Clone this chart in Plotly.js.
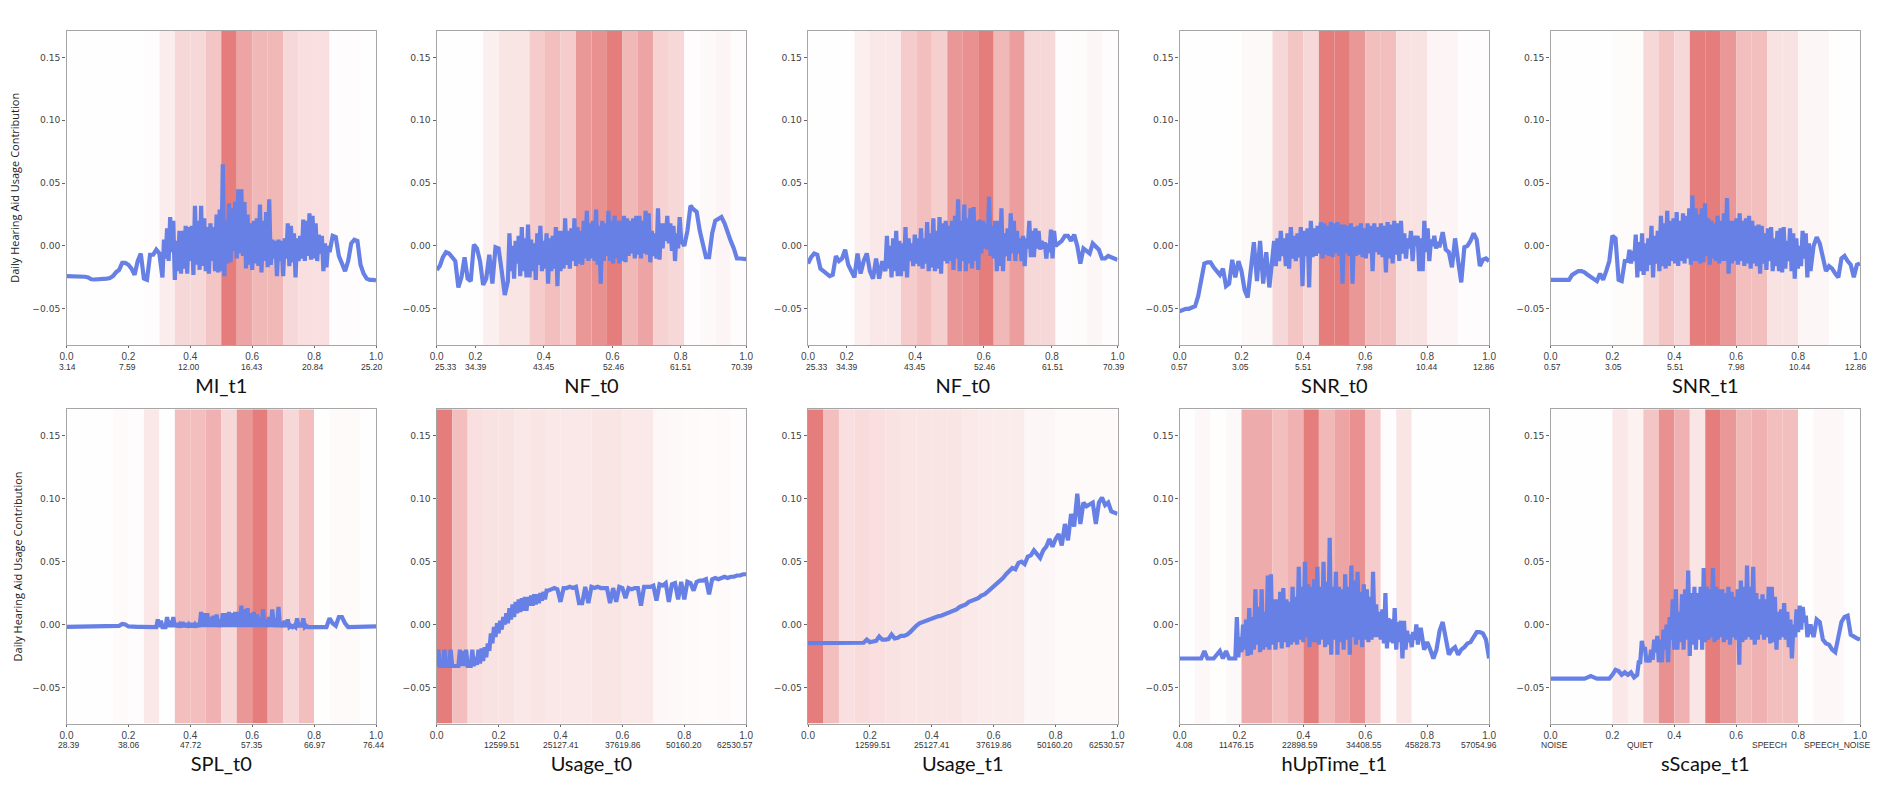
<!DOCTYPE html>
<html>
<head>
<meta charset="utf-8">
<script src="https://cdn.plot.ly/plotly-3.0.1.min.js"></script>
<style>html,body{margin:0;padding:0;background:#fff}</style>
</head>
<body>
<div id="chart" style="width:1892px;height:790px"></div>
<script>
// feature names
const titles = ['MI_t1','NF_t0','NF_t0','SNR_t0','SNR_t1','SPL_t0','Usage_t0','Usage_t1','hUpTime_t1','sScape_t1'];

// contribution curves
// step is 0.01, except between denseFrom and denseTo where the noisy part is read at about 0.005
const miT1 = [-.024,-.024,-.024,-.024,-.024,-.024,-.0245,-.025,-.0265,-.0267,-.0267,-.0267,-.0265,-.026,-.0255,-.024,-.021,-.019,-.0135,-.0135,-.015,-.018,-.023,-.012,-.006,-.026,-.027,-.007,-.007,-.003,-.006,
  -.025,.005,-.01,.014,-.012,.023,-.005,.02,-.027,.004,-.02,.012,-.022,.012,-.018,.016,-.022,.015,-.012,.016,-.023,.032,-.015,.02,-.019,.032,-.016,.022,-.02,.015,-.022,.018,-.012,.015,-.02,.025,-.021,.029,-.02,.065,-.024,.02,-.014,.034,-.013,.03,-.004,.035,-.01,.045,-.006,.045,-.008,.035,-.018,.025,-.015,.018,-.019,.02,-.014,.022,-.016,.033,-.021,.02,-.012,.027,-.017,.037,-.015,.005,-.01,.004,-.024,.005,-.012,.004,-.024,.006,-.01,.018,-.016,.016,-.013,.01,-.025,.006,-.012,.008,-.01,.021,-.012,.02,-.008,.026,-.011,.024,-.01,.018,-.012,.009,-.006,.008,-.02,.002,-.017,.0,
  -.005,.008,.007,-.008,-.015,-.02,-.012,.002,.005,.004,-.015,-.022,-.026,-.027,-.027,-.0275];
const nfT0a = [-.019,-.016,-.009,-.005,-.006,-.009,-.012,-.033,-.025,-.009,-.026,-.028,.001,-.002,-.012,-.031,-.026,-.007,-.03,-.001,-.002,-.02,-.039,
  -.028,.01,-.02,.0,-.026,.004,-.014,.008,-.024,.015,-.02,.006,-.025,.017,-.025,.005,-.02,.002,-.027,.01,-.015,.016,-.02,.004,-.018,.01,-.03,.006,-.02,.008,-.018,.015,-.032,.012,-.02,.012,-.018,.022,-.015,.012,-.018,.014,-.012,.022,-.016,.015,-.014,.012,-.015,.02,-.01,.028,-.012,.018,-.01,.02,-.012,.029,-.015,.016,-.03,.02,-.012,.018,-.008,.028,-.012,.02,-.014,.024,-.01,.02,-.014,.02,-.012,.024,-.013,.022,-.008,.02,-.006,.022,-.01,.024,-.007,.024,-.01,.02,-.006,.028,-.007,.026,-.013,.012,-.008,.01,-.01,.03,-.011,.018,-.002,.018,.004,.024,.002,.018,-.004,.016,-.012,.01,-.002,.023,
  .004,.0,.012,.032,.029,.027,.012,.003,-.009,-.009,.01,.02,.022,.023,.018,.01,.004,-.002,-.01,-.01,-.0105,-.0105];
const nfT0b = [-.014,-.009,-.006,-.007,-.018,-.02,-.021,-.024,-.023,-.008,-.012,-.01,-.003,-.015,-.02,-.025,-.006,-.022,-.012,-.006,-.02,-.026,-.01,-.026,-.012,
  -.02,.008,-.018,.0,-.025,.006,-.02,.012,-.024,.004,-.024,.002,-.02,.015,-.025,.006,-.012,.002,-.016,.009,-.014,.006,-.016,.014,-.018,.006,-.014,.019,-.02,.01,-.017,.022,-.02,.012,-.018,.023,-.022,.018,-.012,.02,-.014,.016,-.012,.02,-.019,.024,-.01,.037,-.02,.02,-.012,.033,-.02,.022,-.014,.03,-.018,.031,-.012,.02,-.019,.021,-.006,.02,-.002,.018,-.003,.039,-.008,.016,-.01,.02,-.02,.02,-.016,.03,-.02,.01,-.008,.014,-.012,.026,-.006,.02,-.012,.012,-.006,.006,-.012,.008,-.016,.006,-.002,.02,-.009,.012,-.009,.014,-.002,.012,-.003,.004,-.002,.003,-.01,.002,-.005,.013,-.01,.012,
  .0,.002,.004,.008,.008,.004,.009,.0,-.014,-.002,-.004,-.006,.002,.0,-.003,-.01,-.01,-.008,-.009,-.01,-.011];
const snrT0 = [-.052,-.051,-.05,-.05,-.049,-.048,-.04,-.028,-.014,-.013,-.013,-.017,-.02,-.023,-.018,-.032,-.03,-.011,-.025,-.012,-.02,-.035,-.041,-.02,.003,-.028,.004,-.03,-.005,-.033,
  -.01,.004,-.016,.006,-.012,.012,-.008,.006,-.016,.01,-.018,.015,-.01,.008,-.012,.01,-.009,.015,-.032,.012,-.008,.014,-.033,.02,-.009,.014,-.008,.016,-.006,.019,-.01,.018,-.007,.016,-.008,.019,-.009,.018,-.006,.019,-.008,.017,-.03,.017,-.006,.016,-.008,.018,-.03,.015,-.008,.016,-.007,.018,-.009,.014,-.01,.018,-.006,.016,-.02,.018,-.005,.015,-.007,.018,-.009,.016,-.021,.019,-.01,.017,-.014,.02,-.007,.018,-.012,.02,-.006,.01,-.01,.006,-.002,.012,-.012,.008,.0,.008,-.02,.006,-.02,.02,-.005,.014,-.012,.005,.0,.008,-.002,.003,-.001,.004,
  .011,-.003,-.005,-.017,.006,-.012,-.029,-.001,.0,.004,.01,.005,-.016,-.011,-.01,-.012];
const snrT1 = [-.027,-.027,-.027,-.027,-.027,-.027,-.027,-.023,-.021,-.02,-.02,-.021,-.023,-.025,-.027,-.028,-.022,-.027,-.02,-.012,.008,.006,-.027,-.028,-.012,
  -.012,-.003,-.014,-.004,-.012,.009,-.025,.003,-.02,.01,-.023,.002,-.02,.006,-.015,.016,-.025,.008,-.014,.012,-.02,.024,-.016,.018,-.018,.028,-.016,.02,-.012,.022,-.014,.027,-.016,.02,-.012,.026,-.014,.024,-.01,.03,-.015,.04,-.012,.03,-.012,.025,-.014,.03,-.013,.034,-.008,.022,-.015,.02,-.01,.018,-.012,.024,-.014,.02,-.012,.026,-.012,.038,-.022,.02,-.014,.02,-.012,.022,-.015,.026,-.012,.02,-.016,.022,-.014,.024,-.018,.02,-.014,.016,-.016,.017,-.022,.016,-.014,.01,-.019,.014,-.012,.015,-.02,.006,-.016,.012,-.02,.014,-.021,.015,-.018,.004,-.012,.014,-.02,.01,-.026,.006,-.018,.0,-.016,.012,-.01,.01,-.025,.002,
  -.02,.0,.007,.002,-.01,-.02,-.016,-.018,-.022,-.025,-.01,-.008,-.012,-.015,-.025,-.015,-.014];
const splT0 = [-.0018,-.0018,-.0018,-.0018,-.0018,-.0018,-.0018,-.0018,-.0018,-.0018,-.0018,-.0018,-.0018,-.0018,-.0018,-.0018,-.0018,-.001,.0005,0,-.0015,-.0018,-.0018,-.0018,-.0018,-.0018,-.0018,-.0018,-.0018,
  -.002,.004,-.002,.003,-.002,-.002,-.002,.006,-.002,.003,-.002,.006,-.002,.001,-.002,.0,-.002,.002,-.002,.001,-.002,.0,-.002,.001,-.002,.0,-.002,.001,-.002,.01,-.002,.009,-.002,.009,-.002,.006,-.002,.007,-.002,.008,-.002,.004,-.002,.009,-.002,.009,-.002,.01,-.002,.009,-.002,.01,-.002,.01,-.002,.015,-.002,.012,-.002,.013,-.002,.009,-.002,.01,-.002,.008,-.002,.006,-.002,.012,-.002,.004,-.002,.006,-.002,.012,-.002,.005,-.002,.014,-.002,.002,-.002,.003,-.002,.004,-.002,-.001,-.002,-.001,-.002,.005,-.002,.001,-.002,.005,-.002,-.001,
  -.002,-.002,-.002,-.002,-.002,-.002,-.002,.005,.001,-.001,.006,.006,.001,-.002,-.002,-.0015,-.0015,-.0015,-.0015,-.0015,-.0015,-.0015,-.0015];
const usageT0 = [-.033,-.02,-.033,-.033,-.033,-.02,-.033,-.033,-.033,-.02,-.033,-.033,-.033,-.033,-.033,-.02,-.033,-.021,-.033,-.02,-.033,-.033,-.033,-.02,-.033,-.026,-.032,-.02,-.031,-.019,-.029,-.018,-.026,-.015,-.021,-.007,-.015,-.002,-.01,.001,-.007,.003,-.004,.006,.0,.009,.001,.013,.004,.016,.006,.018,.009,.02,.01,.021,.011,.022,.011,.022,.015,.023,.015,.024,.016,.024,.017,.025,.019,.026,.02,.027,
  .027,.028,.029,.028,.018,.029,.029,.03,.029,.03,.017,.017,.03,.017,.03,.029,.03,.029,.029,.029,.017,.029,.018,.03,.029,.021,.029,.028,.029,.029,.015,.03,.03,.03,.031,.019,.032,.031,.033,.018,.032,.033,.02,.034,.02,.034,.033,.027,.034,.035,.035,.036,.024,.036,.037,.036,.037,.038,.037,.038,.038,.039,.039,.04,.04];
const usageT1 = [-.0148,-.0148,-.0148,-.0148,-.0148,-.0148,-.0148,-.0148,-.0148,-.0148,-.0148,-.0148,-.0148,-.0148,-.0148,-.0148,-.0148,-.0148,-.0145,-.012,-.014,-.0135,-.013,-.0095,-.012,-.012,-.0115,-.008,-.011,-.0105,-.009,-.009,-.008,-.006,-.003,-.001,.001,.002,.003,.004,.005,.006,.0065,.007,.008,.009,.0105,.011,.012,.014,.015,.016,.018,.019,.02,.021,.023,.024,.026,.028,.03,.033,.035,.037,.04,.042,.045,.044,.049,.05,.048,.054,.055,.059,.056,.053,.059,.062,.068,.062,.068,.072,.063,.08,.067,.088,.078,.104,.08,.097,.094,.096,.097,.08,.097,.101,.095,.097,.09,.089,.088];
const hUpTimeT1 = [-.027,-.027,-.027,-.027,-.027,-.027,-.027,-.027,-.021,-.027,-.027,-.027,-.024,-.021,-.027,-.021,-.027,-.027,
  -.027,.006,-.026,-.01,-.022,.0,-.02,.004,-.025,.013,-.024,.006,-.02,.028,-.016,.014,-.022,.028,-.02,.01,-.018,.039,-.02,.04,-.016,.02,-.02,.02,-.014,.026,-.019,.029,-.014,.02,-.018,.018,-.016,.03,-.014,.022,-.016,.046,-.012,.03,-.014,.05,-.01,.032,-.018,.03,-.014,.036,-.014,.046,-.016,.03,-.012,.05,-.018,.034,-.016,.069,-.024,.03,-.012,.042,-.024,.03,-.014,.028,-.02,.04,-.012,.03,-.024,.047,-.01,.035,-.016,.042,-.012,.026,-.018,.032,-.012,.028,-.014,.022,-.012,.042,-.01,.016,-.01,.01,-.012,.012,-.015,.025,-.019,.005,-.014,.004,-.015,.013,-.02,.002,-.014,.003,-.027,.003,-.02,-.005,-.014,-.008,-.018,-.006,-.012,.0,-.016,-.004,
  -.004,-.02,-.014,-.02,-.027,-.02,-.005,.002,-.012,-.024,-.02,-.018,-.024,-.02,-.018,-.015,-.014,-.01,-.006,-.006,-.007,-.012,-.027];
const sScapeT1 = [-.043,-.043,-.043,-.043,-.043,-.043,-.043,-.043,-.043,-.043,-.043,-.043,-.042,-.041,-.042,-.043,-.043,-.043,-.043,-.043,-.04,-.036,-.037,-.04,-.038,-.04,-.038,-.042,
  -.04,-.03,-.03,-.013,-.02,-.018,-.03,-.025,-.03,-.02,-.028,-.012,-.022,-.009,-.03,-.012,-.03,-.004,-.02,.0,-.03,.006,-.012,.02,-.02,.028,-.02,.01,-.014,.024,-.02,.028,-.012,.043,-.025,.025,-.016,.03,-.02,.025,-.012,.03,-.02,.045,-.014,.03,-.012,.028,-.01,.045,-.014,.03,-.012,.028,-.01,.028,-.014,.025,-.012,.03,-.016,.026,-.01,.022,-.012,.028,-.032,.035,-.014,.03,-.012,.047,-.01,.03,-.012,.046,-.016,.025,-.012,.02,-.008,.024,-.012,.02,-.01,.03,-.015,.03,-.014,.022,-.02,.01,-.012,.012,-.01,.017,-.012,.01,-.018,.004,-.027,.0,-.01,.012,-.006,.015,-.004,.014,.002,.007,
  -.01,.0,-.01,.004,.002,-.012,-.015,-.016,-.02,-.022,-.01,.002,.006,.007,-.008,-.01,-.011,-.012];
const curves = [miT1,nfT0a,nfT0b,snrT0,snrT1,splT0,usageT0,usageT1,hUpTimeT1,sScapeT1];
const denseFrom = [.31,.23,.25,.30,.25,.29,0,0,.18,.28];
const denseTo = [.85,.79,.80,.85,.84,.78,.36,1,.78,.83];

// red band strength per 0.05 wide bin, 20 bins per panel
const bandMi = [.01,.01,.01,.01,.01,.02,.14,.3,.3,.45,1,.7,.55,.55,.3,.25,.25,.02,.02,.01];
const bandNfA = [.01,.01,.01,.12,.2,.2,.4,.5,.4,.8,.85,1,.55,.7,.35,.3,.02,.05,.08,.02];
const bandNfB = [.01,.01,.01,.12,.18,.18,.4,.5,.38,.8,.85,1,.55,.75,.3,.3,.02,.03,.07,.02];
const bandSnrA = [.01,.01,.01,.01,.05,.05,.3,.45,.3,1,1,.8,.5,.5,.22,.22,.08,.08,.02,.02];
const bandSnrB = [.01,.01,.01,.01,.03,.03,.3,.45,.3,1,1,.8,.5,.5,.22,.22,.07,.07,.01,.01];
const bandSpl = [.01,.01,.01,.04,.02,.18,.01,.5,.5,.6,.3,.8,1,.6,.3,.5,.01,.04,.04,.01];
const bandUsageA = [1,.5,.25,.22,.22,.18,.2,.18,.18,.18,.2,.2,.17,.17,.06,.05,.04,.03,.04,.02];
const bandUsageB = [1,.5,.25,.28,.25,.22,.2,.2,.2,.2,.17,.15,.15,.15,.07,.07,.04,.04,.04,.04];
const bandUpTime = [.01,.06,.01,.05,.65,.65,.5,.6,1,.55,.7,.85,.4,.02,.2,.01,.01,.01,.01,.01];
const bandScape = [.01,.01,.01,.01,.18,.1,.45,.85,.6,.2,1,.8,.55,.6,.5,.5,.01,.06,.06,.01];
const bands = [bandMi,bandNfA,bandNfB,bandSnrA,bandSnrB,bandSpl,bandUsageA,bandUsageB,bandUpTime,bandScape];

// x ticks, the 0..1 scale and the raw feature values below it
const unitLabels = ['0.0','0.2','0.4','0.6','0.8','1.0'];
const regularTicks = [0,.2,.4,.6,.8,1];
const nfTicks = [0,.125,.346,.568,.788,1];
const tickVals = [regularTicks,nfTicks,nfTicks,regularTicks,regularTicks,regularTicks,regularTicks,regularTicks,[0,.193,.4,.6,.8,1],regularTicks];
const rawLabels = [
  ['3.14','7.59','12.00','16.43','20.84','25.20'],
  ['25.33','34.39','43.45','52.46','61.51','70.39'],
  ['25.33','34.39','43.45','52.46','61.51','70.39'],
  ['0.57','3.05','5.51','7.98','10.44','12.86'],
  ['0.57','3.05','5.51','7.98','10.44','12.86'],
  ['28.39','38.06','47.72','57.35','66.97','76.44'],
  ['60','12599.51','25127.41','37619.86','50160.20','62530.57'],
  ['60','12599.51','25127.41','37619.86','50160.20','62530.57'],
  ['4.08','11476.15','22898.59','34408.55','45828.73','57054.96'],
  ['NOISE','QUIET','SPEECH','SPEECH_NOISE']
];
const rawLabelPos = [
  [.003,.198,.396,.6,.798,.988],
  [.029,.128,.346,.572,.79,.987],
  [.028,.127,.345,.571,.79,.988],
  [.001,.198,.401,.597,.8,.983],
  [.008,.204,.405,.601,.805,.988],
  [.007,.203,.402,.598,.803,.993],
  [-.004,.211,.4,.601,.798,.963],
  [-.003,.211,.4,.602,.798,.966],
  [.017,.185,.388,.597,.786,.968],
  [.014,.29,.707,.927]
];

const yTicks = [-.05,0,.05,.1,.15];
const yMin = -.0788, yMax = .1712;
const W = 1892, H = 790;
const colLeft = [66.5,436.7,808,1179.6,1550.5];
const panelW = 309.5;
const rowTop = [30.7,409.3], panelH = 314.3;
const rawLabelY = [367,745];

const lineColor = '#6680E6';
const darkRed = [229,125,125];
function bandColor(a) {
  const c = darkRed.map(v => Math.round(255 - a * (255 - v)));
  return `rgb(${c[0]},${c[1]},${c[2]})`;
}

// x positions of a curve: 0.01 steps outside the dense part, even steps inside it
function curveX(values, from, to) {
  const head = Math.round(from * 100), tail = Math.round((1 - to) * 100) + 1;
  const dense = values.length - head - tail;
  return values.map((_, i) => {
    if (i < head) return i / 100;
    if (i < head + dense) return from + (i - head) * (to - from) / dense;
    return to + (i - head - dense) / 100;
  });
}

let traces = [];
let annotations = [];
let layout = {
  width: W, height: H, margin: {l:0,r:0,t:0,b:0}, autosize: false,
  paper_bgcolor: '#fff', plot_bgcolor: '#fff', showlegend: false,
  barmode: 'overlay', font: {family: 'DejaVu Sans', color: '#333'}
};

titles.forEach((title, p) => {
  const row = Math.floor(p / 5), col = p % 5;
  const id = p === 0 ? '' : String(p + 1);
  const xa = 'x' + id, ya = 'y' + id;

  // red background bins
  traces.push({
    type: 'bar', xaxis: xa, yaxis: ya, hoverinfo: 'skip',
    x: bands[p].map((_, i) => (i + .5) * .05),
    y: bands[p].map(() => yMax - yMin), base: yMin, width: .05,
    marker: {color: bands[p].map(bandColor), line: {width: 0}}
  });
  // contribution curve
  traces.push({
    type: 'scatter', mode: 'lines', xaxis: xa, yaxis: ya,
    x: curveX(curves[p], denseFrom[p], denseTo[p]), y: curves[p],
    line: {color: lineColor, width: 4.2}
  });

  layout['xaxis' + id] = {
    domain: [colLeft[col] / W, (colLeft[col] + panelW) / W], anchor: ya,
    range: [0, 1], tickmode: 'array', tickvals: tickVals[p], ticktext: unitLabels,
    ticks: 'outside', ticklen: 2, tickcolor: '#666', tickwidth: 1,
    tickfont: {family: 'Liberation Sans', size: 10, color: '#444'},
    showgrid: false, zeroline: false, showline: true, mirror: true, linecolor: '#a6a6a6', linewidth: 1.4,
    title: {text: title, font: {family: 'Lato', size: 20, color: '#111'}, standoff: 17}
  };
  layout['yaxis' + id] = {
    domain: [1 - (rowTop[row] + panelH) / H, 1 - rowTop[row] / H], anchor: xa,
    range: [yMin, yMax], tickmode: 'array', tickvals: yTicks, tickformat: '.2f',
    ticks: 'outside', ticklen: 3, tickcolor: '#666', tickwidth: 1,
    tickfont: {family: 'DejaVu Sans', size: 9.2, color: '#444'},
    showgrid: false, zeroline: false, showline: true, mirror: true, linecolor: '#a6a6a6', linewidth: 1.4,
    title: col === 0 ? {text: 'Daily Hearing Aid Usage Contribution', font: {family: 'Open Sans', size: 11, color: '#222'}, standoff: row === 0 ? 10 : 7} : undefined
  };

  // raw feature values under the unit ticks
  rawLabels[p].forEach((label, i) => {
    annotations.push({
      xref: xa, yref: 'paper', x: rawLabelPos[p][i], y: 1 - rawLabelY[row] / H,
      text: label, showarrow: false, xanchor: 'center', yanchor: 'middle',
      font: {family: 'Liberation Sans', size: 8.5, color: '#333'}
    });
  });
});
layout.annotations = annotations;

Plotly.newPlot('chart', traces, layout, {displayModeBar: false, responsive: false});
</script>
</body>
</html>
